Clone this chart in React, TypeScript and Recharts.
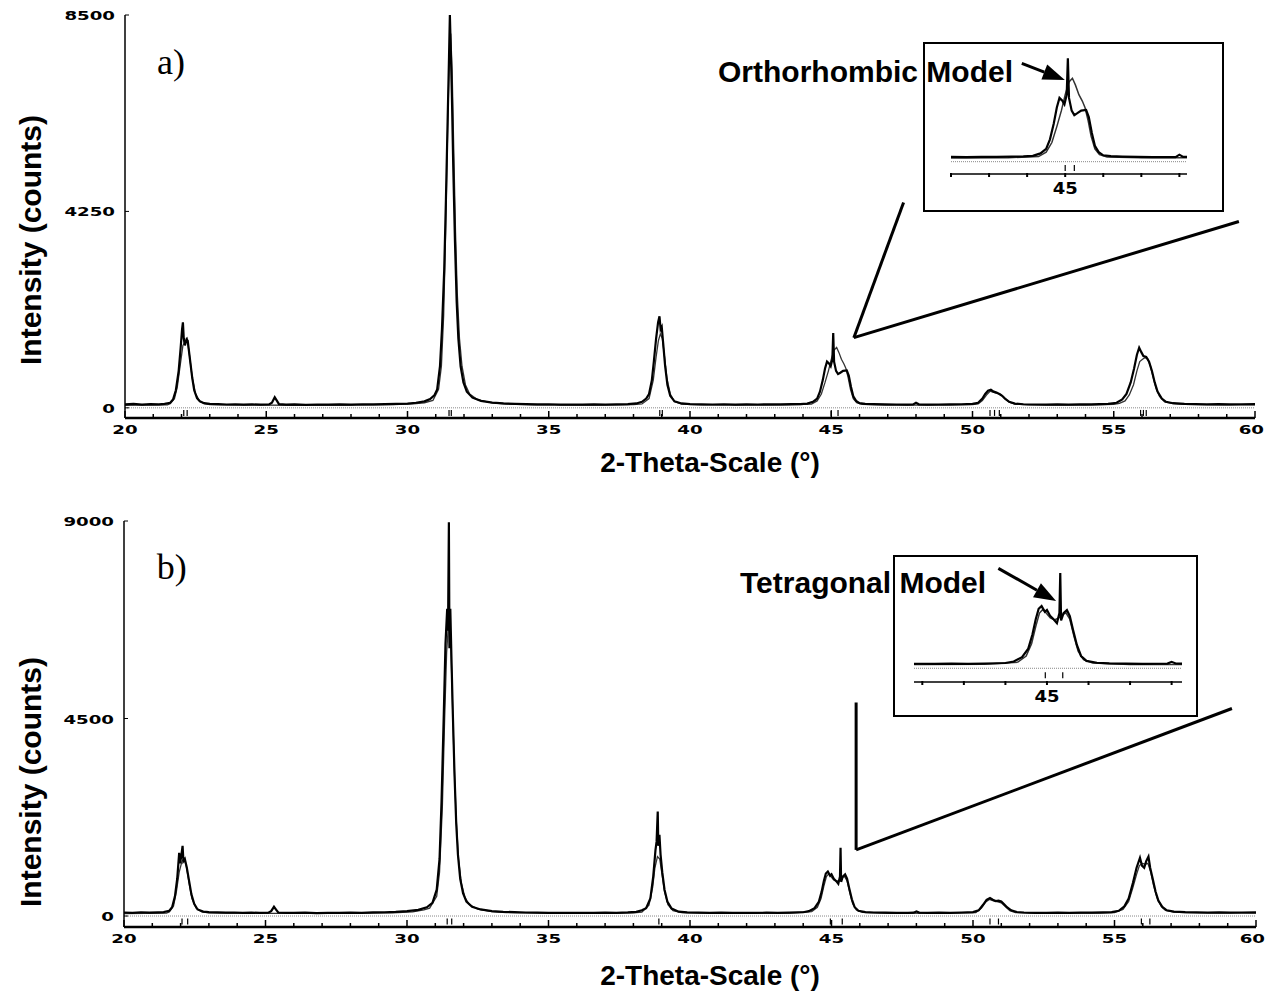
import React from "react";
import {
  ComposedChart,
  Line,
  XAxis,
  YAxis,
  ReferenceLine,
  ReferenceDot,
  Scatter,
} from "recharts";

type Pt = [number, number];

// panel a) observed pattern (2-theta, counts)
const OBS_A: Pt[] = [
  [20.0, 75], [20.3, 88], [20.6, 70], [20.9, 82], [21.2, 76], [21.4, 85], [21.6, 110], [21.7, 180],
  [21.8, 380], [21.9, 800], [21.97, 1300], [22.02, 1700], [22.05, 1850], [22.08, 1500], [22.12, 1350],
  [22.18, 1480], [22.22, 1450], [22.3, 1050], [22.38, 650], [22.45, 380], [22.55, 210], [22.65, 140],
  [22.8, 100], [23.0, 85], [23.3, 80], [23.6, 72], [23.9, 78], [24.2, 70], [24.5, 75], [24.8, 68],
  [25.1, 72], [25.2, 110], [25.3, 230], [25.38, 150], [25.45, 80], [25.7, 70], [26.0, 74], [26.4, 66],
  [26.8, 72], [27.2, 68], [27.6, 75], [28.0, 70], [28.4, 78], [28.8, 74], [29.2, 82], [29.6, 85],
  [30.0, 92], [30.3, 110], [30.6, 140], [30.8, 190], [30.95, 270], [31.05, 400], [31.15, 900],
  [31.22, 1700], [31.3, 3000], [31.36, 4500], [31.42, 6200], [31.47, 7600], [31.5, 8500], [31.53, 7800],
  [31.57, 6800], [31.62, 5200], [31.68, 3600], [31.74, 2300], [31.8, 1500], [31.88, 900], [31.98, 550],
  [32.1, 350], [32.3, 220], [32.6, 150], [33.0, 112], [33.4, 95], [33.8, 85], [34.2, 80], [34.6, 74],
  [35.0, 78], [35.4, 70], [35.8, 72], [36.2, 68], [36.6, 74], [37.0, 70], [37.4, 76], [37.8, 82],
  [38.1, 95], [38.3, 130], [38.45, 200], [38.55, 300], [38.65, 600], [38.72, 1000], [38.8, 1500],
  [38.87, 1850], [38.92, 1980], [38.96, 1700], [39.0, 1750], [39.05, 1400], [39.12, 900], [39.2, 500],
  [39.3, 260], [39.45, 140], [39.7, 95], [40.0, 82], [40.4, 75], [40.8, 72], [41.2, 78], [41.6, 70],
  [42.0, 74], [42.4, 72], [42.8, 76], [43.2, 74], [43.6, 80], [43.9, 82], [44.15, 92], [44.35, 130],
  [44.5, 200], [44.6, 350], [44.7, 600], [44.78, 850], [44.85, 1000], [44.92, 960], [44.98, 900],
  [45.04, 1050], [45.07, 1620], [45.1, 1000], [45.17, 800], [45.24, 730], [45.32, 760], [45.42, 800],
  [45.55, 810], [45.62, 700], [45.7, 450], [45.78, 250], [45.88, 150], [46.0, 100], [46.2, 86],
  [46.5, 80], [46.9, 74], [47.3, 72], [47.7, 70], [47.9, 72], [48.0, 110], [48.1, 76], [48.4, 70],
  [48.8, 72], [49.2, 74], [49.6, 78], [50.0, 85], [50.2, 110], [50.35, 200], [50.45, 300], [50.55, 370],
  [50.65, 390], [50.75, 350], [50.85, 330], [50.95, 300], [51.05, 260], [51.15, 200], [51.3, 130],
  [51.5, 92], [51.8, 78], [52.2, 72], [52.6, 70], [53.0, 74], [53.4, 70], [53.8, 76], [54.2, 74],
  [54.5, 80], [54.8, 85], [55.1, 110], [55.3, 180], [55.45, 300], [55.6, 550], [55.72, 850],
  [55.82, 1150], [55.9, 1300], [55.98, 1200], [56.05, 1120], [56.15, 1100], [56.25, 1000], [56.35, 800],
  [56.45, 550], [56.55, 350], [56.7, 200], [56.85, 130], [57.1, 100], [57.5, 86], [57.9, 80], [58.3, 76],
  [58.7, 80], [59.1, 74], [59.5, 78], [60.0, 80],
];

// panel a) orthorhombic model
const CALC_A: Pt[] = [
  [20, 55], [21.5, 62], [21.6, 90], [21.75, 200], [21.85, 450], [21.95, 900], [22.05, 1350],
  [22.12, 1420], [22.2, 1500], [22.28, 1150], [22.38, 650], [22.5, 300], [22.65, 140], [22.8, 90],
  [23, 70], [24, 60], [25, 58], [26, 56], [28, 60], [29.5, 68], [30.2, 85], [30.6, 110], [30.9, 160],
  [31.1, 400], [31.2, 900], [31.28, 2000], [31.35, 3800], [31.42, 6000], [31.48, 7600], [31.53, 8100],
  [31.58, 7300], [31.64, 5500], [31.7, 3800], [31.76, 2500], [31.84, 1500], [31.93, 900], [32.05, 500],
  [32.2, 300], [32.5, 170], [33, 105], [33.5, 80], [34.5, 65], [36, 60], [37.5, 62], [38.0, 70],
  [38.3, 85], [38.55, 200], [38.7, 600], [38.8, 1100], [38.88, 1450], [38.95, 1600], [39.02, 1500],
  [39.1, 1100], [39.18, 650], [39.3, 300], [39.45, 140], [39.7, 80], [40.5, 62], [42, 58], [43.5, 62],
  [44.3, 80], [44.5, 150], [44.65, 300], [44.78, 550], [44.9, 800], [45.0, 1050], [45.1, 1250],
  [45.19, 1307], [45.27, 1200], [45.36, 1050], [45.45, 950], [45.52, 850], [45.6, 650], [45.68, 400],
  [45.78, 200], [45.9, 110], [46.1, 75], [47, 60], [49, 60], [50.0, 68], [50.2, 85], [50.35, 160],
  [50.5, 280], [50.62, 360], [50.72, 340], [50.85, 320], [51.0, 290], [51.15, 200], [51.3, 120],
  [51.5, 80], [52, 62], [54, 60], [55.0, 75], [55.2, 95], [55.4, 150], [55.55, 280], [55.7, 500],
  [55.82, 800], [55.92, 1000], [56.02, 1050], [56.1, 1084], [56.2, 1060], [56.3, 900], [56.4, 650],
  [56.5, 420], [56.62, 250], [56.8, 130], [57.1, 90], [57.5, 75], [59, 65], [60, 64],
];

// panel b) observed pattern
const OBS_B: Pt[] = [
  [20.0, 80], [20.3, 72], [20.6, 86], [20.9, 78], [21.2, 84], [21.4, 90], [21.6, 120], [21.7, 200],
  [21.8, 450], [21.88, 850], [21.95, 1440], [21.98, 1200], [22.02, 1350], [22.07, 1600], [22.1, 1250],
  [22.15, 1300], [22.22, 1100], [22.3, 800], [22.38, 500], [22.48, 280], [22.6, 150], [22.8, 100],
  [23.0, 88], [23.3, 82], [23.6, 76], [23.9, 80], [24.2, 72], [24.5, 78], [24.8, 70], [25.1, 74],
  [25.2, 110], [25.3, 210], [25.38, 140], [25.45, 80], [25.7, 72], [26.0, 70], [26.4, 76], [26.8, 68],
  [27.2, 74], [27.6, 70], [28.0, 78], [28.4, 74], [28.8, 82], [29.2, 86], [29.6, 95], [30.0, 110],
  [30.4, 140], [30.7, 200], [30.9, 300], [31.05, 600], [31.15, 1300], [31.22, 2600], [31.3, 4600],
  [31.36, 6200], [31.42, 7000], [31.45, 6500], [31.48, 8970], [31.5, 6100], [31.53, 7000], [31.57, 5900],
  [31.62, 4600], [31.68, 3200], [31.74, 2100], [31.8, 1400], [31.88, 850], [31.98, 520], [32.1, 330],
  [32.3, 210], [32.6, 150], [33.0, 112], [33.4, 96], [33.8, 88], [34.2, 80], [34.6, 76], [35.0, 72],
  [35.4, 70], [35.8, 74], [36.2, 70], [36.6, 72], [37.0, 76], [37.4, 74], [37.8, 84], [38.1, 96],
  [38.3, 130], [38.45, 180], [38.6, 400], [38.7, 900], [38.78, 1500], [38.82, 1700], [38.86, 2380],
  [38.88, 1600], [38.92, 1850], [38.96, 1400], [39.02, 1000], [39.1, 600], [39.2, 330], [39.35, 170],
  [39.6, 100], [39.9, 84], [40.3, 78], [40.7, 72], [41.1, 76], [41.5, 70], [41.9, 74], [42.3, 72],
  [42.7, 76], [43.1, 72], [43.5, 78], [43.8, 82], [44.0, 86], [44.2, 110], [44.4, 180], [44.55, 320],
  [44.65, 550], [44.73, 800], [44.8, 970], [44.87, 1014], [44.95, 920], [45.0, 950], [45.08, 850],
  [45.16, 800], [45.24, 736], [45.3, 900], [45.32, 1553], [45.34, 780], [45.4, 900], [45.48, 948],
  [45.55, 850], [45.63, 620], [45.72, 380], [45.82, 200], [45.95, 120], [46.2, 90], [46.5, 80],
  [46.9, 76], [47.3, 72], [47.7, 74], [47.9, 76], [48.0, 105], [48.1, 78], [48.4, 72], [48.8, 76],
  [49.2, 72], [49.6, 80], [50.0, 90], [50.2, 130], [50.35, 250], [50.48, 370], [50.6, 411], [50.7, 370],
  [50.8, 340], [50.9, 350], [51.0, 330], [51.1, 270], [51.2, 200], [51.35, 130], [51.55, 92], [51.8, 80],
  [52.2, 74], [52.6, 72], [53.0, 76], [53.4, 72], [53.8, 78], [54.2, 76], [54.6, 84], [54.9, 90],
  [55.15, 120], [55.35, 220], [55.5, 400], [55.65, 750], [55.78, 1100], [55.9, 1325], [55.97, 1150],
  [56.05, 1100], [56.12, 1250], [56.2, 1355], [56.26, 1100], [56.35, 850], [56.45, 560], [56.55, 350],
  [56.7, 200], [56.85, 130], [57.1, 100], [57.5, 88], [57.9, 82], [58.3, 78], [58.7, 84], [59.1, 76],
  [59.5, 80], [60.0, 82],
];

// panel b) tetragonal model
const CALC_B: Pt[] = [
  [20, 58], [21.5, 66], [21.6, 90], [21.75, 230], [21.85, 550], [21.95, 1000], [22.05, 1250],
  [22.12, 1300], [22.2, 1150], [22.3, 750], [22.4, 400], [22.55, 180], [22.75, 95], [23, 72], [25, 60],
  [28, 62], [29.5, 72], [30.2, 95], [30.6, 140], [30.8, 180], [31.05, 450], [31.15, 1000], [31.25, 2500],
  [31.33, 4500], [31.4, 6000], [31.47, 6700], [31.54, 6400], [31.6, 5000], [31.67, 3400], [31.74, 2200],
  [31.82, 1300], [31.92, 750], [32.05, 420], [32.2, 260], [32.5, 160], [33, 100], [33.5, 80], [35, 64],
  [37.5, 64], [38.0, 72], [38.3, 90], [38.55, 250], [38.68, 650], [38.76, 1100], [38.85, 1354],
  [38.93, 1300], [39.0, 1000], [39.1, 560], [39.22, 260], [39.4, 120], [39.7, 80], [40.5, 64], [42, 60],
  [43.5, 64], [44.3, 100], [44.5, 200], [44.63, 400], [44.73, 680], [44.82, 900], [44.9, 960],
  [44.98, 900], [45.08, 820], [45.18, 790], [45.28, 820], [45.38, 880], [45.46, 900], [45.55, 800],
  [45.65, 520], [45.75, 280], [45.88, 140], [46.1, 85], [47, 62], [49.5, 64], [50.1, 80], [50.3, 180],
  [50.45, 320], [50.58, 380], [50.7, 350], [50.85, 330], [51.0, 300], [51.15, 210], [51.3, 120],
  [51.5, 80], [52, 64], [54.5, 66], [55.0, 80], [55.3, 150], [55.5, 330], [55.65, 650], [55.78, 950],
  [55.88, 1150], [55.98, 1200], [56.08, 1180], [56.18, 1200], [56.28, 1000], [56.38, 700], [56.5, 420],
  [56.65, 220], [56.8, 130], [57.1, 90], [57.5, 76], [60, 66],
];

// reflection positions (tick marks under the baseline)
const BRAGG_A = [22.08, 22.2, 31.47, 31.55, 38.93, 39.02, 45.0, 45.24, 50.62, 50.78, 50.95, 55.95, 56.05, 56.15];
const BRAGG_B = [22.05, 22.25, 31.42, 31.58, 38.9, 44.96, 45.38, 50.6, 50.9, 55.95, 56.25];

const X_TICKS = Array.from({ length: 41 }, (_, i) => 20 + i);
const Y_TICKS_A = [0, 4250, 8500];
const Y_TICKS_B = [0, 4500, 9000];
const INSET_TICKS = [42, 43, 44, 45, 46, 47, 48];
const INSET_LABELS = [45];

const toRows = (pts: Pt[]) => pts.map(([x, y]) => ({ x, y }));

const NUM_FONT = { fontFamily: "DejaVu Sans", fontWeight: 700, fontSize: 13, fill: "#000" };
const TITLE_FONT = { fontFamily: "Liberation Sans, Arial", fontWeight: 700, fill: "#000" };

const BottomTick = (props: any) => {
  const { x, y, payload } = props;
  const v = payload.value;
  const major = v % 5 === 0;
  const last = v === 60;
  return (
    <g>
      <line x1={x} x2={x} y1={y} y2={y - (major ? 7 : 4)} stroke="#000" strokeWidth={1.5} />
      {major && (
        <text
          transform={`translate(${last ? x + 9 : x},${y + 16}) scale(1.4,1)`}
          textAnchor={last ? "end" : "middle"}
          style={NUM_FONT}
        >
          {v}
        </text>
      )}
    </g>
  );
};

const TopTick = (props: any) => {
  const { x, y, payload } = props;
  if (payload.value % 5 !== 0) return <g />;
  return <line x1={x} x2={x} y1={y} y2={y + 6} stroke="#000" strokeWidth={1.5} />;
};

const LeftTick = (props: any) => {
  const { x, y, payload } = props;
  return (
    <g>
      <line x1={x} x2={x + 4} y1={y} y2={y} stroke="#000" strokeWidth={1} />
      <text transform={`translate(${x - 10},${y + 5}) scale(1.4,1)`} textAnchor="end" style={NUM_FONT}>
        {payload.value}
      </text>
    </g>
  );
};

const RightTick = (props: any) => {
  const { x, y } = props;
  return <line x1={x} x2={x - 4} y1={y} y2={y} stroke="#000" strokeWidth={1} />;
};

const BraggMark = (props: any) => {
  const { cx, cy } = props;
  if (cx == null || cy == null) return <g />;
  return <line x1={cx} x2={cx} y1={cy - 3} y2={cy + 3} stroke="#000" strokeWidth={1.2} />;
};

const Arrow = (p: any) => {
  const { x1, y1, x2, y2 } = p;
  if (x1 == null || x2 == null) return <g />;
  const dx = x2 - x1;
  const dy = y2 - y1;
  const len = Math.hypot(dx, dy) || 1;
  const ux = dx / len;
  const uy = dy / len;
  const hl = 22;
  const hw = 8;
  const bx = x2 - ux * hl;
  const by = y2 - uy * hl;
  return (
    <g>
      <line x1={x1} y1={y1} x2={bx} y2={by} stroke="#000" strokeWidth={3} />
      <polygon
        points={`${x2},${y2} ${bx - uy * hw},${by + ux * hw} ${bx + uy * hw},${by - ux * hw}`}
        fill="#000"
      />
    </g>
  );
};

interface PanelProps {
  top: number;
  height: number;
  margin: { top: number; right: number; left: number; bottom: number };
  yAxisWidth: number;
  xAxisHeight: number;
  obs: Pt[];
  calc: Pt[];
  bragg: number[];
  braggY: number;
  yDomain: [number, number];
  yTicks: number[];
  tag: string;
  tagAt: Pt;
  connectors: [Pt, Pt][];
  xTitleDy: number;
  yTitleY: number;
}

const Panel = (p: PanelProps) => (
  <div style={{ position: "absolute", left: 0, top: p.top }}>
    <ComposedChart width={1265} height={p.height} margin={p.margin}>
      <XAxis
        dataKey="x"
        type="number"
        domain={[20, 60]}
        ticks={X_TICKS}
        interval={0}
        allowDataOverflow
        height={p.xAxisHeight}
        tickSize={0}
        tickMargin={0}
        tickLine={false}
        tick={<BottomTick />}
        axisLine={{ stroke: "#000", strokeWidth: 2.5 }}
        label={{
          content: (lp: any) => (
            <text
              x={710}
              y={(lp.viewBox?.y ?? 0) + p.xTitleDy}
              textAnchor="middle"
              style={{ ...TITLE_FONT, fontSize: 28 }}
            >
              2-Theta-Scale (°)
            </text>
          ),
        }}
      />
      <XAxis
        xAxisId="top"
        orientation="top"
        type="number"
        dataKey="x"
        domain={[20, 60]}
        ticks={X_TICKS}
        interval={0}
        height={0}
        tickSize={0}
        tickMargin={0}
        tickLine={false}
        tick={<TopTick />}
        axisLine={{ stroke: "#000", strokeWidth: 1.5 }}
      />
      <YAxis
        type="number"
        domain={p.yDomain}
        ticks={p.yTicks}
        interval={0}
        allowDataOverflow
        width={p.yAxisWidth}
        tickSize={0}
        tickMargin={0}
        tickLine={false}
        tick={<LeftTick />}
        axisLine={{ stroke: "#000", strokeWidth: 1.5 }}
        label={{
          content: () => (
            <text
              x={30}
              y={p.yTitleY}
              transform={`rotate(-90, 30, ${p.yTitleY})`}
              textAnchor="middle"
              dominantBaseline="central"
              style={{ ...TITLE_FONT, fontSize: 30 }}
            >
              Intensity (counts)
            </text>
          ),
        }}
      />
      <YAxis
        yAxisId="right"
        orientation="right"
        type="number"
        domain={p.yDomain}
        ticks={p.yTicks}
        width={0}
        tickSize={0}
        tickMargin={0}
        tickLine={false}
        tick={<RightTick />}
        axisLine={{ stroke: "#000", strokeWidth: 1.5 }}
      />
      <ReferenceLine y={0} stroke="#888" strokeWidth={1} strokeDasharray="1 1" />
      <Line
        data={toRows(p.calc)}
        dataKey="y"
        type="linear"
        stroke="#333"
        strokeWidth={1.3}
        dot={false}
        isAnimationActive={false}
      />
      <Line
        data={toRows(p.obs)}
        dataKey="y"
        type="linear"
        stroke="#000"
        strokeWidth={2.2}
        dot={false}
        isAnimationActive={false}
      />
      <Scatter
        data={p.bragg.map((x) => ({ x, y: p.braggY }))}
        dataKey="y"
        shape={<BraggMark />}
        isAnimationActive={false}
      />
      {p.connectors.map(([a, b], i) => (
        <ReferenceLine
          key={i}
          segment={[{ x: a[0], y: a[1] }, { x: b[0], y: b[1] }]}
          stroke="#000"
          strokeWidth={3}
          ifOverflow="visible"
        />
      ))}
      <ReferenceDot
        x={p.tagAt[0]}
        y={p.tagAt[1]}
        r={0}
        ifOverflow="visible"
        label={{
          content: (lp: any) => (
            <text
              x={lp.viewBox?.x ?? 0}
              y={lp.viewBox?.y ?? 0}
              style={{ fontFamily: "Liberation Serif, Times New Roman", fontSize: 36, fill: "#000" }}
            >
              {p.tag}
            </text>
          ),
        }}
      />
    </ComposedChart>
  </div>
);

interface InsetProps {
  left: number;
  top: number;
  width: number;
  height: number;
  margin: { top: number; right: number; left: number; bottom: number };
  xAxisHeight: number;
  xDomain: [number, number];
  yDomain: [number, number];
  obs: Pt[];
  calc: Pt[];
  bragg: number[];
  braggY: number;
  arrow: [Pt, Pt];
}

const InsetTick = (props: any) => {
  const { x, y, payload } = props;
  const v = payload.value;
  return (
    <g>
      <line x1={x} x2={x} y1={y - 1} y2={y + 3} stroke="#000" strokeWidth={2} />
      {INSET_LABELS.includes(v) && (
        <text
          transform={`translate(${x},${y + 20}) scale(1.2,1)`}
          textAnchor="middle"
          style={{ ...NUM_FONT, fontSize: 15 }}
        >
          {v}
        </text>
      )}
    </g>
  );
};

const Inset = (p: InsetProps) => (
  <div
    style={{
      position: "absolute",
      left: p.left,
      top: p.top,
      width: p.width,
      height: p.height,
      border: "2px solid #000",
      background: "#fff",
    }}
  >
    <ComposedChart width={p.width} height={p.height} margin={p.margin}>
      <XAxis
        dataKey="x"
        type="number"
        domain={p.xDomain}
        ticks={INSET_TICKS}
        interval={0}
        allowDataOverflow
        height={p.xAxisHeight}
        tickSize={0}
        tickMargin={0}
        tickLine={false}
        tick={<InsetTick />}
        axisLine={{ stroke: "#000", strokeWidth: 1.5 }}
      />
      <YAxis type="number" domain={p.yDomain} allowDataOverflow hide />
      <ReferenceLine y={0} stroke="#888" strokeWidth={1} strokeDasharray="1 1" />
      <Line
        data={toRows(p.calc)}
        dataKey="y"
        type="linear"
        stroke="#333"
        strokeWidth={1.5}
        dot={false}
        isAnimationActive={false}
      />
      <Line
        data={toRows(p.obs)}
        dataKey="y"
        type="linear"
        stroke="#000"
        strokeWidth={2.2}
        dot={false}
        isAnimationActive={false}
      />
      <Scatter
        data={p.bragg.map((x) => ({ x, y: p.braggY }))}
        dataKey="y"
        shape={<BraggMark />}
        isAnimationActive={false}
      />
      <ReferenceLine
        segment={[
          { x: p.arrow[0][0], y: p.arrow[0][1] },
          { x: p.arrow[1][0], y: p.arrow[1][1] },
        ]}
        ifOverflow="visible"
        shape={Arrow}
      />
    </ComposedChart>
  </div>
);

const MODEL_TEXT: React.CSSProperties = {
  position: "absolute",
  fontFamily: "Liberation Sans, Arial",
  fontWeight: 700,
  fontSize: 30,
  lineHeight: "30px",
  whiteSpace: "nowrap",
  color: "#000",
};

export default function App() {
  return (
    <div style={{ position: "absolute", left: 0, top: 0, width: 1265, height: 999, background: "#fff" }}>
      <Panel
        top={0}
        height={499}
        margin={{ top: 15, right: 10, left: 0, bottom: 0 }}
        yAxisWidth={125}
        xAxisHeight={81}
        obs={OBS_A}
        calc={CALC_A}
        bragg={BRAGG_A}
        braggY={-110}
        yDomain={[-220, 8500]}
        yTicks={Y_TICKS_A}
        tag="a)"
        tagAt={[21.13, 7220]}
        connectors={[
          [[45.8, 1518], [47.56, 4444]],
          [[45.8, 1518], [59.43, 4032]],
        ]}
        xTitleDy={54}
        yTitleY={240}
      />
      <Panel
        top={500}
        height={499}
        margin={{ top: 21, right: 9, left: 0, bottom: 0 }}
        yAxisWidth={124}
        xAxisHeight={72}
        obs={OBS_B}
        calc={CALC_B}
        bragg={BRAGG_B}
        braggY={-125}
        yDomain={[-250, 9000]}
        yTicks={Y_TICKS_B}
        tag="b)"
        tagAt={[21.16, 7674]}
        connectors={[
          [[45.87, 1507], [45.87, 4865]],
          [[45.87, 1507], [59.15, 4728]],
        ]}
        xTitleDy={58}
        yTitleY={282}
      />
      <Inset
        left={923}
        top={42}
        width={297}
        height={166}
        margin={{ top: 4, right: 35, left: 26, bottom: 0 }}
        xAxisHeight={36}
        xDomain={[42, 48.2]}
        yDomain={[-193, 1782]}
        obs={OBS_A}
        calc={CALC_A}
        bragg={BRAGG_A}
        braggY={-100}
        arrow={[[43.86, 1542], [44.99, 1280]]}
      />
      <Inset
        left={893}
        top={555}
        width={301}
        height={158}
        margin={{ top: 3, right: 14, left: 19, bottom: 0 }}
        xAxisHeight={33}
        xDomain={[41.8, 48.25]}
        yDomain={[-224, 1766]}
        obs={OBS_B}
        calc={CALC_B}
        bragg={BRAGG_B}
        braggY={-112}
        arrow={[[43.83, 1630], [45.22, 1096]]}
      />
      <div style={{ ...MODEL_TEXT, left: 718, top: 57 }}>Orthorhombic Model</div>
      <div style={{ ...MODEL_TEXT, left: 740, top: 568 }}>Tetragonal Model</div>
    </div>
  );
}
